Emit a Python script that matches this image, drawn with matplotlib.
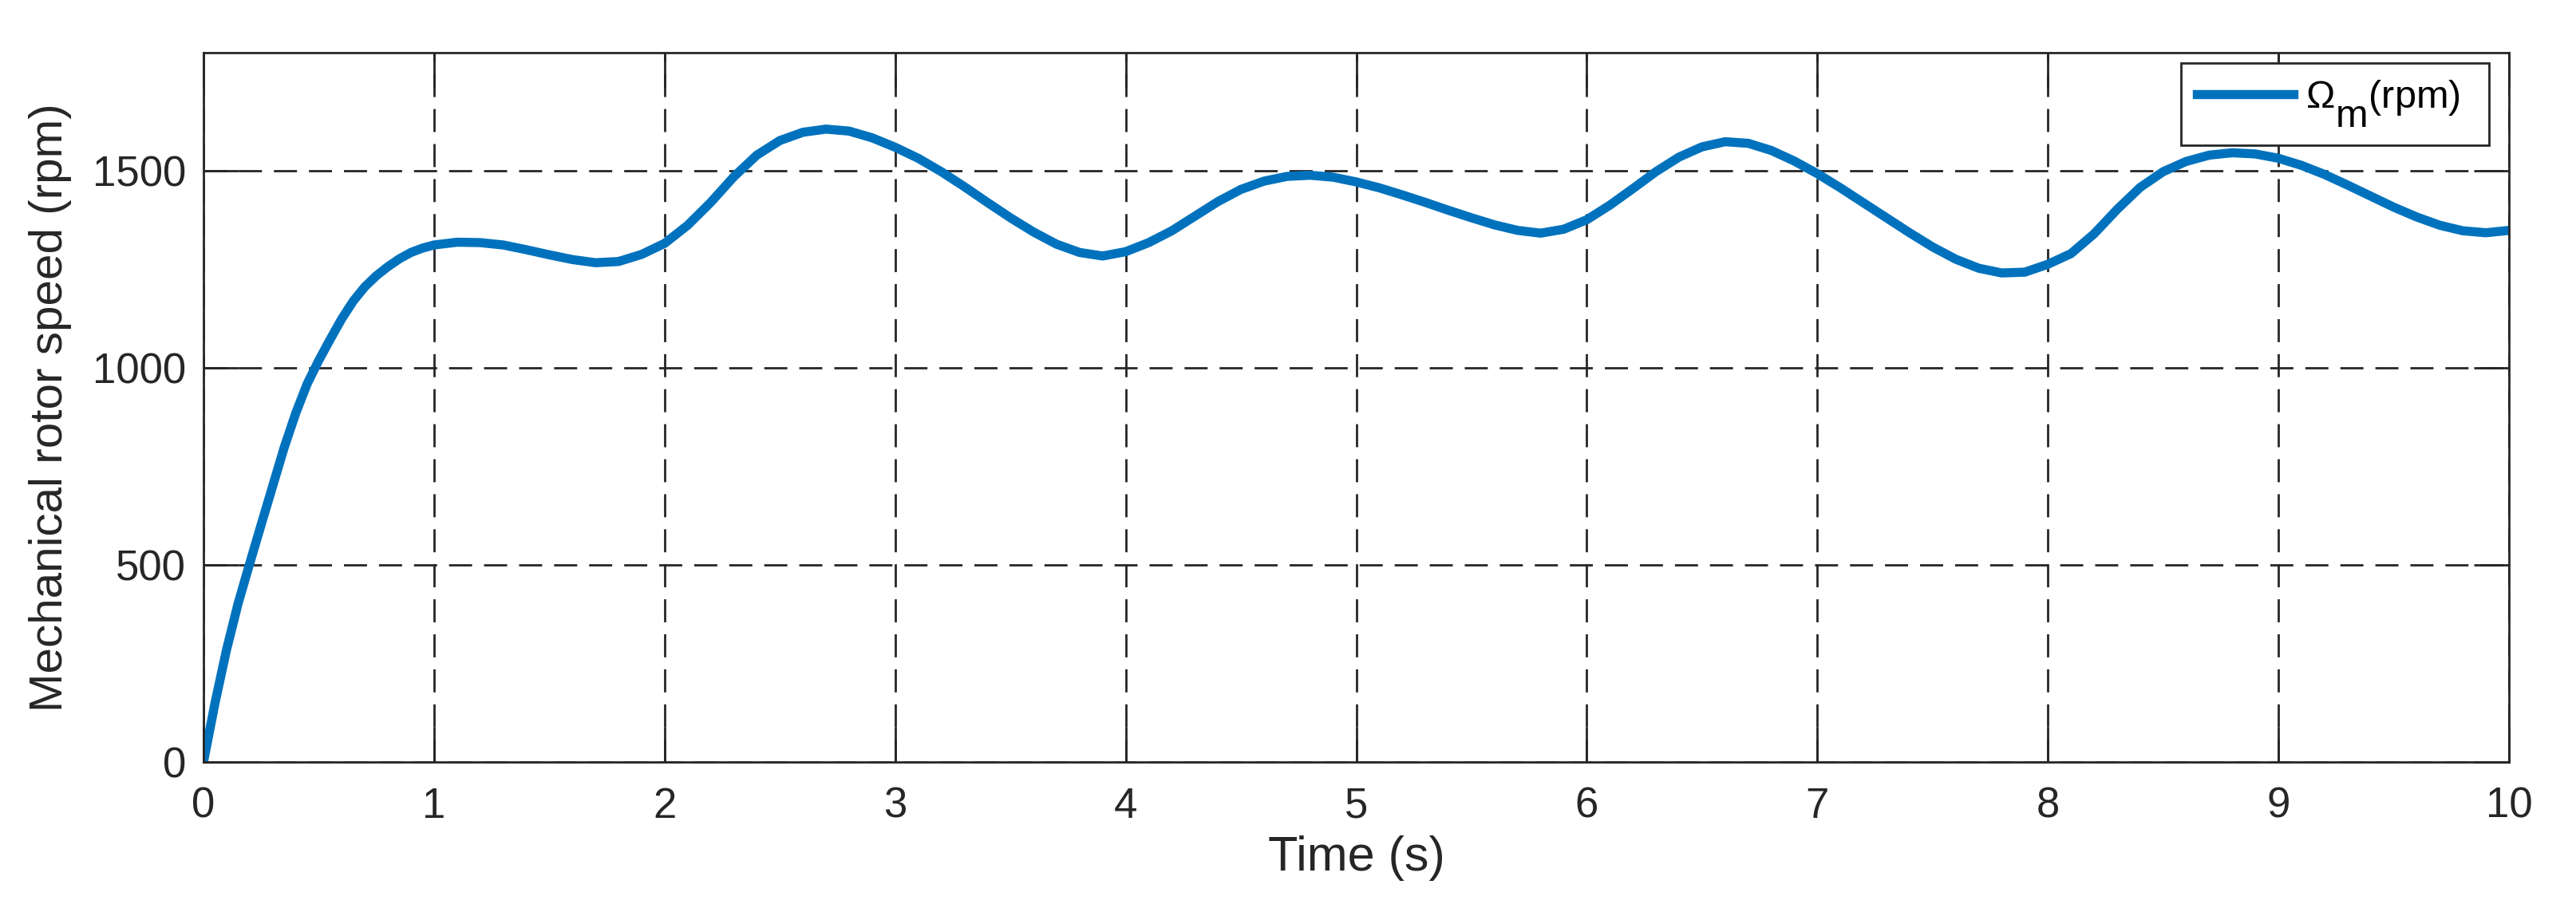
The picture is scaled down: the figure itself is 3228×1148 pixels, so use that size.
import numpy as np
import matplotlib
matplotlib.use('Agg')
import matplotlib.pyplot as plt

plt.rcParams['font.family'] = ['Liberation Sans', 'DejaVu Sans']
plt.rcParams['mathtext.fontset'] = 'custom'
plt.rcParams['mathtext.rm'] = 'Liberation Sans'
plt.rcParams['mathtext.it'] = 'Liberation Sans:italic'

# full size, well lowered subscript like the MATLAB tex legend
try:
    import matplotlib._mathtext as mt

    class _SubConsts(mt.FontConstantsBase):
        sub1 = 0.95

    mt._font_constant_mapping['Liberation Sans'] = _SubConsts
    mt.SHRINK_FACTOR = 1.0
except Exception:
    pass

# time (s) and mechanical rotor speed (rpm)
time_s = [0.0, 0.05, 0.1, 0.15, 0.2, 0.25, 0.3, 0.35, 0.4, 0.45, 0.5, 0.55, 0.6, 0.65,
          0.7, 0.75, 0.8, 0.85, 0.9, 0.95, 1.0, 1.1, 1.2, 1.3, 1.4, 1.5, 1.6, 1.7, 1.8, 1.9,
          2.0, 2.1, 2.2, 2.3, 2.4, 2.5, 2.6, 2.7, 2.8, 2.9, 3.0, 3.1, 3.2, 3.3, 3.4,
          3.5, 3.6, 3.7, 3.8, 3.9, 4.0, 4.1, 4.2, 4.3, 4.4, 4.5, 4.6, 4.7, 4.8, 4.9,
          5.0, 5.1, 5.2, 5.3, 5.4, 5.5, 5.6, 5.7, 5.8, 5.9, 6.0, 6.1, 6.2, 6.3, 6.4,
          6.5, 6.6, 6.7, 6.8, 6.9, 7.0, 7.1, 7.2, 7.3, 7.4, 7.5, 7.6, 7.7, 7.8, 7.9,
          8.0, 8.1, 8.2, 8.3, 8.4, 8.5, 8.6, 8.7, 8.8, 8.9, 9.0, 9.1, 9.2, 9.3, 9.4,
          9.5, 9.6, 9.7, 9.8, 9.9, 10.0]
speed_rpm = [0, 150, 285, 402, 503, 602, 700, 798, 885, 960, 1019, 1073, 1125, 1170,
             1206, 1234, 1257, 1277, 1293, 1304, 1312, 1319, 1318, 1312, 1300, 1287, 1275, 1267, 1270, 1288,
             1316, 1362, 1420, 1485, 1540, 1577, 1598, 1606, 1601, 1584, 1560, 1532, 1498, 1460, 1420,
             1381, 1345, 1314, 1293, 1284, 1295, 1318, 1348, 1385, 1422, 1453, 1474, 1486, 1489, 1484,
             1472, 1457, 1439, 1420, 1400, 1381, 1363, 1349, 1342, 1352, 1376, 1413, 1455, 1498, 1535,
             1561, 1574, 1570, 1552, 1525, 1493, 1457, 1419, 1381, 1343, 1307, 1276, 1253, 1241, 1243,
             1263, 1290, 1340, 1402, 1458, 1498, 1524, 1540, 1546, 1543, 1532, 1514, 1491, 1464, 1436,
             1408, 1383, 1362, 1348, 1343, 1349]

x_ticks = [0, 1, 2, 3, 4, 5, 6, 7, 8, 9, 10]
y_ticks = [0, 500, 1000, 1500]

dark = '#262626'

fig = plt.figure(figsize=(16.14, 5.74), dpi=200)
ax = fig.add_axes([255/3228, 1 - 955/1148, (3144 - 255)/3228, (955 - 66)/1148])

ax.plot(time_s, speed_rpm, color='#0072BD', lw=4.1, solid_joinstyle='round',
        label='Ω$_\\mathrm{m}$(rpm)  ')

ax.set_xlim(0, 10)
ax.set_ylim(0, 1800)
ax.set_xticks(x_ticks)
ax.set_yticks(y_ticks)

ax.grid(True, color=dark, lw=1.0, linestyle=(0, (10.4, 5.4)))
ax.tick_params(direction='in', length=16, width=1.0, color=dark, labelcolor=dark,
               labelsize=19, top=True, right=True)
ax.tick_params(axis='x', pad=11)
ax.tick_params(axis='y', pad=8)
for s in ax.spines.values():
    s.set_linewidth(1.0)
    s.set_color(dark)

ax.set_xlabel('Time (s)', fontsize=22, color=dark)
ax.set_ylabel('Mechanical rotor speed (rpm)', fontsize=21, color=dark)
ax.yaxis.set_label_coords(-0.057, 0.5)

leg = ax.legend(loc='upper right', bbox_to_anchor=(0.9913, 0.9854), borderaxespad=0,
                fontsize=17.5, fancybox=False, edgecolor=dark, framealpha=1,
                handlelength=2.5, handletextpad=0.3, borderpad=0.4)
leg.get_frame().set_linewidth(1.0)

fig.savefig('out.png', dpi=200)
